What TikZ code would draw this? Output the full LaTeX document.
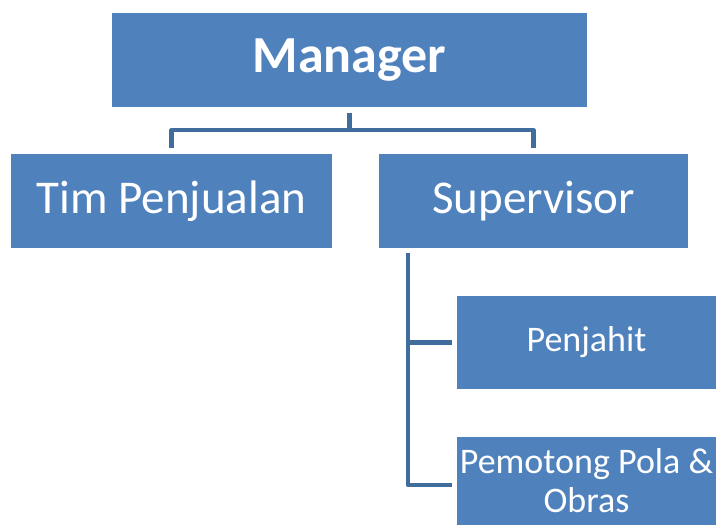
\documentclass[tikz,border=0pt]{standalone}
\usepackage{fontspec}
\setmainfont{Carlito}
\definecolor{boxblue}{RGB}{79,129,189}
\definecolor{linkblue}{RGB}{65,108,158}
\begin{document}
\begin{tikzpicture}[x=1pt,y=-1pt,
  orgbox/.style={rectangle, fill=boxblue, text=white, inner sep=0pt, align=center},
  link/.style={draw=linkblue, line width=4.5pt, line join=round, line cap=butt}]
\useasboundingbox (0,0) rectangle (720,525);
\node[orgbox, minimum width=475pt, minimum height=94pt, font=\fontsize{52}{56}\selectfont\bfseries] (mgr) at (349.5,60) {Manager};
\node[orgbox, minimum width=321pt, minimum height=94pt, font=\fontsize{47}{50}\selectfont] (tim) at (171.5,201) {Tim Penjualan};
\node[orgbox, minimum width=309pt, minimum height=94pt, font=\fontsize{47}{50}\selectfont] (sup) at (533.5,201) {Supervisor};
\node[orgbox, minimum width=259pt, minimum height=93pt, font=\fontsize{36}{40}\selectfont] (pj) at (586.5,342.5) {Penjahit};
\node[orgbox, minimum width=259pt, minimum height=88pt, font=\fontsize{36}{39}\selectfont] (po) at (586.5,481) {Pemotong Pola \&\\Obras};
\coordinate (mj) at ([yshift=-23pt]mgr.south);
\draw[link] ([yshift=-6pt]mgr.south) -- (mj) -| ([yshift=6pt]tim.north);
\draw[link] (mj) -| ([yshift=6pt]sup.north);
\coordinate (tr) at ([xshift=29pt,yshift=-5pt]sup.south west);
\draw[link] (tr) |- ([xshift=-5pt]pj.west);
\draw[link] (tr) |- ([xshift=-5pt,yshift=-4pt]po.west);
\end{tikzpicture}
\end{document}
